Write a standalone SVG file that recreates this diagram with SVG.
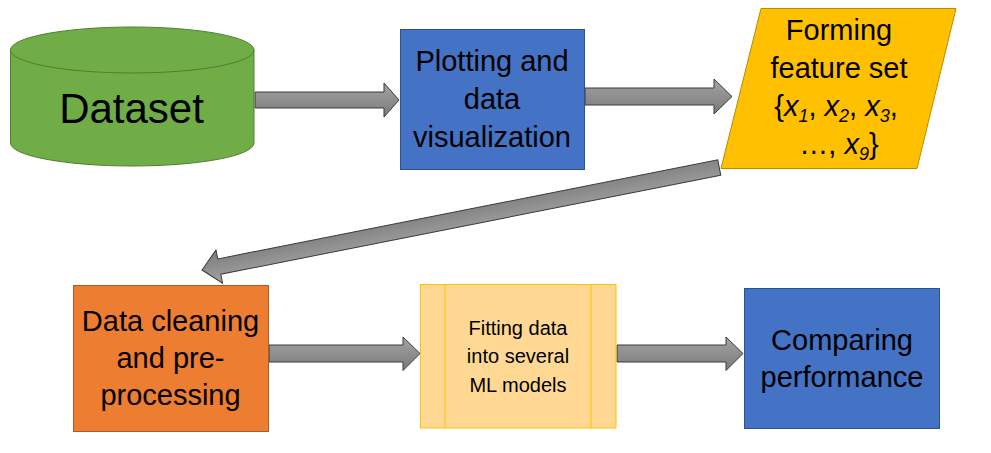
<svg xmlns="http://www.w3.org/2000/svg" width="991" height="453" viewBox="0 0 991 453">
<defs>
<linearGradient id="g" x1="0" y1="0" x2="0" y2="1">
<stop offset="0" stop-color="#a3a3a3"/>
<stop offset="1" stop-color="#7a7a7a"/>
</linearGradient>
</defs>
<style>
text{font-family:"Liberation Sans",Arial,sans-serif;fill:#000;text-anchor:middle}
.big{font-size:29px}
.small{font-size:20px}
.arrow{fill:url(#g);stroke:#3a3a3a;stroke-width:1}
.it{font-style:italic}
.sub{font-size:18px;font-style:italic}
</style>
<rect width="991" height="453" fill="#fff"/>
<g id="connectors">
<path class="arrow" d="M255,92 H384 V83 L399,100 L384,117 V108 H255 Z"/>
<path class="arrow" d="M585,88 H714 V79 L732,96.5 L714,114 V105 H585 Z"/>
<path class="arrow" transform="translate(719.25,167.5) rotate(168.79)" d="M0,-7.8 H509.7 V-17 L527.3,0 L509.7,17 V7.8 H0 Z"/>
<path class="arrow" d="M269,345 H403 V337 L420,353.5 L403,370.5 V362 H269 Z"/>
<path class="arrow" d="M617,345 H726 V337 L743,353.5 L726,370.5 V362 H617 Z"/>
</g>
<g id="dataset">
<path d="M10.5,50 V143 A121.75,23 0 0 0 254,143 V50 Z" fill="#70ad47" stroke="#507e32" stroke-width="1"/>
<ellipse cx="132.25" cy="50" rx="121.75" ry="23" fill="#70ad47" stroke="#507e32" stroke-width="1"/>
<text x="131.5" y="123" style="font-size:42px">Dataset</text>
</g>
<g id="plotting">
<rect x="400.5" y="29.5" width="184" height="140" fill="#4472c4" stroke="#2f528f"/>
<text class="big" x="492" y="71">Plotting and</text>
<text class="big" x="492" y="109">data</text>
<text class="big" x="492" y="147">visualization</text>
</g>
<g id="features">
<polygon points="761,8.5 956,8.5 917,168.5 721,168.5" fill="#ffc000" stroke="#bc8c00"/>
<text class="big" x="839" y="40">Forming</text>
<text class="big" x="839" y="78">feature set</text>
<text class="big" x="836" y="116">{<tspan class="it">x</tspan><tspan class="sub" dy="6">1</tspan><tspan dy="-6">, </tspan><tspan class="it">x</tspan><tspan class="sub" dy="6">2</tspan><tspan dy="-6">, </tspan><tspan class="it">x</tspan><tspan class="sub" dy="6">3</tspan><tspan dy="-6">,</tspan></text>
<text class="big" x="839" y="154">…, <tspan class="it">x</tspan><tspan class="sub" dy="6">9</tspan><tspan dy="-6">}</tspan></text>
</g>
<g id="cleaning">
<rect x="73.5" y="285.5" width="195" height="146" fill="#ed7d31" stroke="#ae5a21"/>
<text class="big" x="170.5" y="331">Data cleaning</text>
<text class="big" x="170.5" y="368">and pre-</text>
<text class="big" x="170.5" y="405">processing</text>
</g>
<g id="fitting">
<rect x="420.5" y="284.5" width="195.5" height="143.5" fill="#ffd993" stroke="#ffc000"/>
<line x1="445" y1="284.5" x2="445" y2="428" stroke="#ffc000"/>
<line x1="591" y1="284.5" x2="591" y2="428" stroke="#ffc000"/>
<text class="small" x="518" y="335">Fitting data</text>
<text class="small" x="518" y="363">into several</text>
<text class="small" x="518" y="392">ML models</text>
</g>
<g id="comparing">
<rect x="744.5" y="288.5" width="195" height="140" fill="#4472c4" stroke="#2f528f"/>
<text class="big" x="842" y="350">Comparing</text>
<text class="big" x="842" y="387">performance</text>
</g>
</svg>
